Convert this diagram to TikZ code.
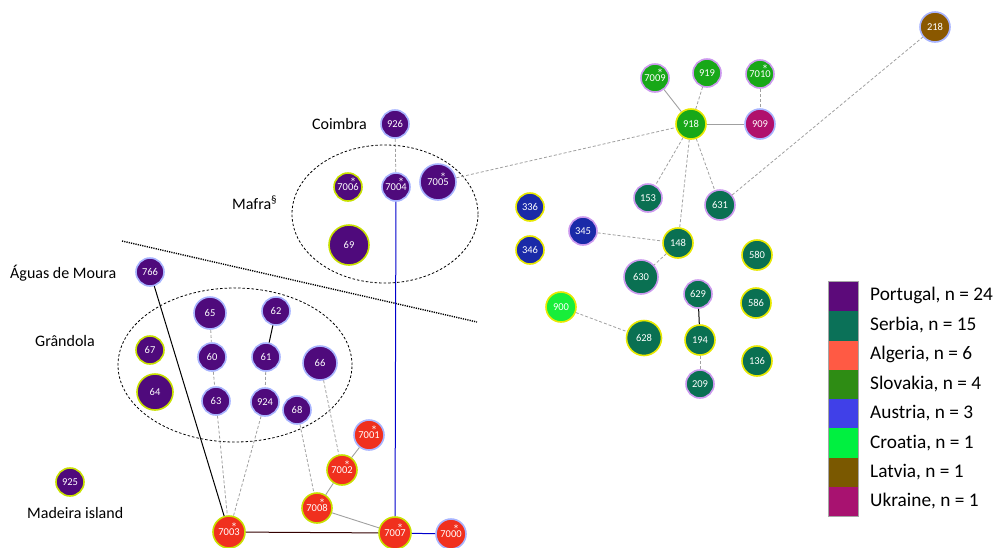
\documentclass[tikz,border=0pt]{standalone}
\usepackage{fontspec}
\usetikzlibrary{shapes.geometric}
\setmainfont{Carlito}[Ligatures=NoCommon]
\newfontfamily\astfont{DejaVu Sans}
\definecolor{cpt}{HTML}{4F0A7C}
\definecolor{csr}{HTML}{0A7052}
\definecolor{cal}{HTML}{F0301E}
\definecolor{csk}{HTML}{18A818}
\definecolor{cau}{HTML}{1A2AA8}
\definecolor{chr}{HTML}{18EE3A}
\definecolor{clv}{HTML}{8A5800}
\definecolor{cua}{HTML}{B0106C}
\definecolor{lpt}{HTML}{5C0A7A}
\definecolor{lsr}{HTML}{0B7158}
\definecolor{lal}{HTML}{FF5A44}
\definecolor{lsk}{HTML}{2E8C14}
\definecolor{lau}{HTML}{4040E8}
\definecolor{lhr}{HTML}{00F040}
\definecolor{llv}{HTML}{7A5800}
\definecolor{lua}{HTML}{A81270}
\definecolor{blb}{HTML}{A8B4FF}
\definecolor{byg}{HTML}{C8E000}
\definecolor{blp}{HTML}{CC99EE}
\definecolor{byl}{HTML}{E8E800}
\definecolor{lgray}{HTML}{A0A0A0}
\tikzset{
  hap/.style={circle, inner sep=0pt, line width=1.6pt, text=white, font=\fontsize{10.5}{11}\selectfont, minimum size=#1},
  hap/.default=28pt,
  ast/.style={label={[text=white, font=\astfont\fontsize{9}{9}\selectfont, inner sep=0pt, xshift=5pt, yshift=6pt]center:*}},
  dsh/.style={draw=lgray, line width=0.8pt, dash pattern=on 3pt off 2pt},
  sol/.style={draw=lgray, line width=0.9pt},
  blk/.style={draw=black, line width=1pt},
  blu/.style={draw=blue!80!black, line width=1pt},
  grp/.style={draw=black, line width=0.8pt, dash pattern=on 2.5pt off 2pt},
  lab/.style={font=\fontsize{16}{18}\selectfont, inner sep=0pt},
  leg/.style={font=\fontsize{19.3}{20}\selectfont, inner sep=0pt, anchor=west},
  legbox/.style={minimum width=30pt, minimum height=29.3pt, inner sep=0pt}
}
\begin{document}
\begin{tikzpicture}[x=1pt,y=-1pt]
\useasboundingbox (0,0) rectangle (996,547);
% group ellipses
\node[grp, ellipse, minimum width=186pt, minimum height=138pt] (emafra) at (385,214) {};
\node[grp, ellipse, minimum width=234pt, minimum height=154pt] (egran) at (235,365) {};
\coordinate (dl1) at (122,241);
\coordinate (dl2) at (477,322);
\draw[black, line width=1.4pt, dash pattern=on 1.2pt off 1.1pt] (dl1) -- (dl2);
% right cluster
\node[hap=30pt, fill=clv, draw=blb] (n218) at (935,27) {218};
\node[hap, fill=csk, draw=blp, ast] (n7009) at (655,78) {7009};
\node[hap, fill=csk, draw=blp] (n919) at (707,73) {919};
\node[hap, fill=csk, draw=blp, ast] (n7010) at (760,74) {7010};
\node[hap=30pt, fill=csk, draw=byl] (n918) at (691,124) {918};
\node[hap=30pt, fill=cua, draw=blb] (n909) at (760,124) {909};
\node[hap, fill=csr, draw=blp] (n153) at (648,198) {153};
\node[hap=30pt, fill=csr, draw=blp] (n631) at (720,205) {631};
\node[hap, fill=cau, draw=byl] (n336) at (530,207) {336};
\node[hap, fill=cau, draw=byl] (n346) at (530,250) {346};
\node[hap, fill=cau, draw=blp] (n345) at (583,231) {345};
\node[hap=30pt, fill=csr, draw=byl] (n148) at (678,243) {148};
\node[hap=34pt, fill=csr, draw=blp] (n630) at (641,277) {630};
\node[hap=30pt, fill=csr, draw=byl] (n580) at (757,255) {580};
\node[hap=30pt, fill=chr, draw=byl] (n900) at (561,307) {900};
\node[hap=35pt, fill=csr, draw=byl] (n628) at (644,338) {628};
\node[hap, fill=csr, draw=blp] (n629) at (698,294) {629};
\node[hap=30pt, fill=csr, draw=byl] (n586) at (756,303) {586};
\node[hap=30pt, fill=csr, draw=byl] (n194) at (700,340) {194};
\node[hap=30pt, fill=csr, draw=byl] (n136) at (757,361) {136};
\node[hap, fill=csr, draw=blp] (n209) at (700,384) {209};
% Portugal
\node[hap, fill=cpt, draw=blb] (n926) at (395,124) {926};
\node[hap, fill=cpt, draw=byg, ast] (n7006) at (348,187) {7006};
\node[hap, fill=cpt, draw=blb, ast] (n7004) at (396,187) {7004};
\node[hap=36pt, fill=cpt, draw=blb, ast] (n7005) at (438,182) {7005};
\node[hap=40pt, fill=cpt, draw=byg] (n69) at (349,245) {69};
\node[hap, fill=cpt, draw=blb] (n766) at (150,272) {766};
\node[hap=32pt, fill=cpt, draw=blb] (n65) at (210,313) {65};
\node[hap, fill=cpt, draw=blb] (n62) at (276,311) {62};
\node[hap, fill=cpt, draw=byg] (n67) at (150,350) {67};
\node[hap, fill=cpt, draw=blb] (n60) at (212,357) {60};
\node[hap, fill=cpt, draw=blb] (n61) at (266,357) {61};
\node[hap=34pt, fill=cpt, draw=blb] (n66) at (320,363) {66};
\node[hap=36pt, fill=cpt, draw=byg] (n64) at (155,392) {64};
\node[hap, fill=cpt, draw=blb] (n63) at (216,401) {63};
\node[hap, fill=cpt, draw=blb] (n924) at (265,402) {924};
\node[hap, fill=cpt, draw=blb] (n68) at (297,410) {68};
\node[hap, fill=cpt, draw=byg] (n925) at (70,482) {925};
% Algeria
\node[hap=30pt, fill=cal, draw=blb, ast] (n7001) at (369,435) {7001};
\node[hap=30pt, fill=cal, draw=byg, ast] (n7002) at (342,470) {7002};
\node[hap=30pt, fill=cal, draw=byg, ast] (n7008) at (317,508) {7008};
\node[hap=32pt, fill=cal, draw=byg, ast] (n7003) at (229,532) {7003};
\node[hap=32pt, fill=cal, draw=byg, ast] (n7007) at (395,533) {7007};
\node[hap=30pt, fill=cal, draw=blb, ast] (n7000) at (451,534) {7000};
% edges
\draw[dsh] (n926) -- (n7004);
\draw[blu] (n7004) -- (n7007);
\draw[blu] (n7007) -- (n7000);
\draw[dsh] (n7005) -- (n918);
\draw[sol] (n918) -- (n7009);
\draw[dsh] (n918) -- (n919);
\draw[sol] (n918) -- (n909);
\draw[dsh] (n7010) -- (n909);
\draw[dsh] (n918) -- (n153);
\draw[dsh] (n918) -- (n148);
\draw[dsh] (n918) -- (n631);
\draw[dsh] (n631) -- (n218);
\draw[dsh] (n345) -- (n148);
\draw[dsh] (n148) -- (n630);
\draw[dsh] (n900) -- (n628);
\draw[blk] (n629) -- (n194);
\draw[dsh] (n194) -- (n209);
\draw[blk] (n62) -- (n61);
\draw[dsh] (n65) -- (n60);
\draw[dsh] (n60) -- (n63);
\draw[dsh] (n61) -- (n924);
\draw[dsh] (n63) -- (n7003);
\draw[dsh] (n924) -- (n7003);
\draw[blk] (n766) -- (n7003);
\draw[draw=black!80!red, line width=1pt] (n7003) -- (n7007);
\draw[dsh] (n66) -- (n7002);
\draw[dsh] (n68) -- (n7008);
\draw[sol] (n7001) -- (n7002);
\draw[sol] (n7002) -- (n7008);
\draw[sol] (n7008) -- (n7007);
% labels
\node[lab, anchor=east] (tcoim) at (367,124) {Coimbra};
\node[lab, anchor=west] (tmafra) at (232,203) {Mafra\textsuperscript{§}};
\node[lab, anchor=west] (taguas) at (10,273) {Águas de Moura};
\node[lab, anchor=west] (tgran) at (35,341) {Grândola};
\node[lab, anchor=west] (tmad) at (27,513) {Madeira island};
% legend
\node[legbox, fill=lpt] (b1) at (843,296.6) {};
\node[legbox, fill=lsr] (b2) at (843,325.9) {};
\node[legbox, fill=lal] (b3) at (843,355.2) {};
\node[legbox, fill=lsk] (b4) at (843,384.5) {};
\node[legbox, fill=lau] (b5) at (843,413.8) {};
\node[legbox, fill=lhr] (b6) at (843,443.1) {};
\node[legbox, fill=llv] (b7) at (843,472.4) {};
\node[legbox, fill=lua] (b8) at (843,501.7) {};
\draw[gray!70, line width=0.6pt] (b1.north west) rectangle (b8.south east);
\node[leg] (t1) at (870,295) {Portugal, n = 24};
\node[leg] (t2) at (870,325) {Serbia, n = 15};
\node[leg] (t3) at (870,354) {Algeria, n = 6};
\node[leg] (t4) at (870,384) {Slovakia, n = 4};
\node[leg] (t5) at (870,413) {Austria, n = 3};
\node[leg] (t6) at (870,443) {Croatia, n = 1};
\node[leg] (t7) at (870,472) {Latvia, n = 1};
\node[leg] (t8) at (870,501) {Ukraine, n = 1};
\end{tikzpicture}
\end{document}
